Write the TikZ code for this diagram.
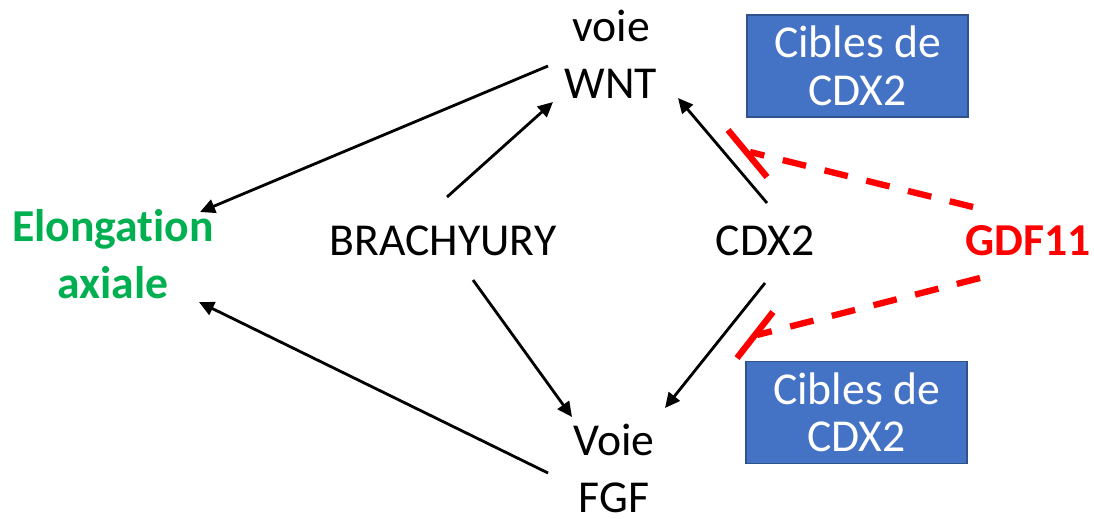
\documentclass[tikz,border=0pt]{standalone}
\usepackage{fontspec}
\setmainfont{Carlito}[Ligatures=NoCommon]
\usetikzlibrary{arrows.meta}
\definecolor{elonggreen}{RGB}{0,176,80}
\definecolor{cibleblue}{RGB}{68,114,196}
\definecolor{cibleedge}{RGB}{47,82,143}
\tikzset{
  lbl/.style={font=\fontsize{26}{32}\selectfont, align=center, inner sep=0pt, anchor=base},
  cible/.style={font=\fontsize{26}{27}\selectfont, align=center, inner sep=0pt, text=white,
    fill=cibleblue, draw=cibleedge, line width=1pt, minimum width=4.42cm, minimum height=2.04cm},
  act/.style={-{Triangle[length=0.3cm, width=0.28cm]}, line width=1.6pt},
  inhib/.style={red, line width=3.6pt, dash pattern=on 0.48cm off 0.38cm},
  inhibbar/.style={red, line width=3.6pt},
}
\begin{document}
\begin{tikzpicture}[x=0.02cm, y=-0.02cm]
  \useasboundingbox (0,0) rectangle (1094,518);
  % nodes
  \node[lbl] (wnt) at (611,98) {voie\\WNT};
  \node[lbl] (fgf) at (614,512) {Voie\\FGF};
  \node[lbl, font=\fontsize{26}{32}\selectfont\bfseries, text=elonggreen] (elong) at (113,298) {Elongation\\axiale};
  \node[lbl] (brachy) at (443,255) {BRACHYURY};
  \node[lbl] (cdx) at (765,255) {CDX2};
  \node[lbl, font=\fontsize{26}{32}\selectfont\bfseries, text=red] (gdf) at (1028,255) {GDF11};
  \node[cible] (cibleA) at (857.5,66) {Cibles de\\CDX2};
  \node[cible] (cibleB) at (856.5,412.5) {Cibles de\\CDX2};
  % activations
  \draw[act] ([shift={(-63,-32)}]wnt.base) -- ([shift={(87,-86)}]elong.base);
  \draw[act] ([shift={(-66,-39)}]fgf.base) -- ([shift={(86,4)}]elong.base);
  \draw[act] ([shift={(4,-58)}]brachy.base) -- ([shift={(-58,4)}]wnt.base);
  \draw[act] ([shift={(30,25)}]brachy.base) -- ([shift={(-42,-95)}]fgf.base);
  \draw[act] ([shift={(2,-52)}]cdx.base) -- ([shift={(67,0)}]wnt.base);
  \draw[act] ([shift={(0,28)}]cdx.base) -- ([shift={(51,-104)}]fgf.base);
  % inhibitions
  \coordinate (stopA) at (750,152);
  \coordinate (stopB) at (757,335);
  \draw[inhib] ([shift={(-55,-48)}]gdf.base) -- (stopA);
  \draw[inhibbar] (stopA) +(-22,-22) -- +(17,25);
  \draw[inhib] ([shift={(-48,23)}]gdf.base) -- (stopB);
  \draw[inhibbar] (stopB) +(16,-23) -- +(-20,23);
\end{tikzpicture}
\end{document}
